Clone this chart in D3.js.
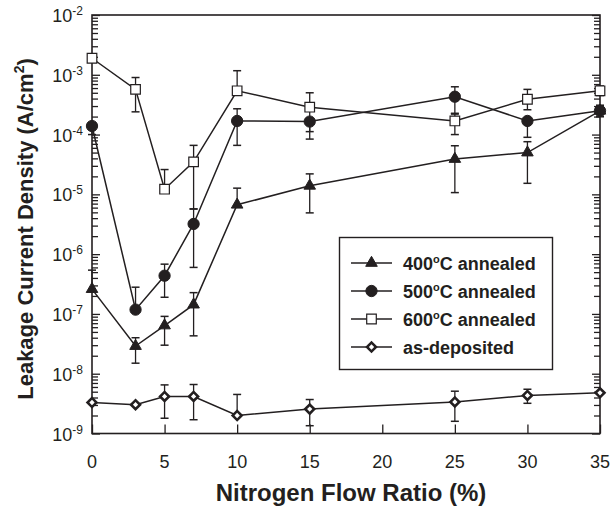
<!DOCTYPE html>
<html>
<head>
<meta charset="utf-8">
<script src="https://cdn.jsdelivr.net/npm/d3@7"></script>
<style>
  body { margin: 0; background: #fff; }
  svg { display: block; }
  text { font-family: "Liberation Sans", Arial, Helvetica, sans-serif; fill: #231f20; }
</style>
</head>
<body>
<svg id="chart" width="611" height="510"></svg>
<script>
// Nitrogen flow ratio (%) at which each film was measured
const flowRatio = [0, 3, 5, 7, 10, 15, 25, 30, 35];

// Leakage current density (A/cm^2), mean values
const annealed400 = [2.6e-7, 2.9e-8, 6.4e-8, 1.43e-7, 6.7e-6, 1.39e-5, 3.9e-5, 5.0e-5, 2.5e-4];
const annealed500 = [1.39e-4, 1.18e-7, 4.36e-7, 3.2e-6, 1.69e-4, 1.65e-4, 4.3e-4, 1.69e-4, 2.5e-4];
const annealed600 = [1.89e-3, 5.7e-4, 1.22e-5, 3.5e-5, 5.4e-4, 2.87e-4, 1.69e-4, 3.9e-4, 5.4e-4];
const asDeposited = [3.3e-9, 3.03e-9, 4.16e-9, 4.16e-9, 2.0e-9, 2.56e-9, 3.37e-9, 4.33e-9, 4.8e-9];

// Error bar limits (null = no bar drawn on that side)
const annealed400Hi = [5.4e-7, 4.0e-8, 9.1e-8, 2.27e-7, 1.27e-5, 2.2e-5, 6.5e-5, 7.6e-5, 3.0e-4];
const annealed400Lo = [null, 1.5e-8, 3.0e-8, 4.3e-8, null, 4.9e-6, 1.07e-5, 1.53e-5, 2.0e-4];
const annealed500Hi = [null, 2.8e-7, 6.8e-7, 5.7e-6, 2.7e-4, null, 6.3e-4, null, 3.1e-4];
const annealed500Lo = [1.0e-4, null, 1.9e-7, 6.0e-7, 6.6e-5, 8.4e-5, 2.27e-4, 9.0e-5, 2.0e-4];
const annealed600Hi = [null, 9.0e-4, 2.6e-5, 6.6e-5, 1.17e-3, 5.0e-4, 2.2e-4, 5.7e-4, 6.5e-4];
const annealed600Lo = [null, 2.4e-4, null, 5.7e-6, null, 1.12e-4, 1.0e-4, 2.6e-4, 4.5e-4];
const asDepositedHi = [null, null, 6.5e-9, 6.6e-9, 4.5e-9, 3.7e-9, 5.1e-9, 5.5e-9, null];
const asDepositedLo = [null, null, 1.8e-9, 1.7e-9, null, 1.35e-9, 1.6e-9, 3.2e-9, null];

// Axis ticks
const xTicks = [0, 5, 10, 15, 20, 25, 30, 35];
const yDecades = [-9, -8, -7, -6, -5, -4, -3, -2];

// Legend entries
const legendTemps = ["400", "500", "600"];
const legendLast = "as-deposited";

const ink = "#231f20";
const svg = d3.select("#chart");

const plotLeft = 92, plotRight = 600, plotTop = 15, plotBottom = 433.5;
const x = d3.scaleLinear().domain([0, 35]).range([plotLeft, plotRight]);
const y = d3.scaleLog().domain([1e-9, 1e-2]).range([plotBottom, plotTop]);

// Minor tick values: 2..9 within each decade
const minorTicks = [];
yDecades.slice(0, -1).forEach(e => {
  for (let m = 2; m <= 9; m++) minorTicks.push(m * Math.pow(10, e));
});
const majorTicks = yDecades.map(e => Math.pow(10, e));

function styleAxis(g) {
  g.select(".domain").remove();
  g.selectAll(".tick line").attr("stroke", ink).attr("stroke-width", 1.3);
  g.selectAll(".tick text").remove();
}

// Left and right log axes, ticks pointing inward
svg.append("g").attr("transform", `translate(${plotLeft},0)`)
  .call(d3.axisLeft(y).tickValues(majorTicks).tickSize(-8)).call(styleAxis);
svg.append("g").attr("transform", `translate(${plotLeft},0)`)
  .call(d3.axisLeft(y).tickValues(minorTicks).tickSize(-6)).call(styleAxis);
svg.append("g").attr("transform", `translate(${plotRight},0)`)
  .call(d3.axisRight(y).tickValues(majorTicks).tickSize(-8)).call(styleAxis);
svg.append("g").attr("transform", `translate(${plotRight},0)`)
  .call(d3.axisRight(y).tickValues(minorTicks).tickSize(-6)).call(styleAxis);

// Bottom axis
svg.append("g").attr("transform", `translate(0,${plotBottom})`)
  .call(d3.axisBottom(x).tickValues(xTicks).tickSize(-9)).call(styleAxis);

// Frame
svg.append("rect")
  .attr("x", plotLeft).attr("y", plotTop)
  .attr("width", plotRight - plotLeft).attr("height", plotBottom - plotTop)
  .attr("fill", "none").attr("stroke", ink).attr("stroke-width", 1.6);

// Y tick labels: 10^n
const yLab = svg.append("g");
yDecades.forEach(e => {
  const t = yLab.append("text")
    .attr("x", 83).attr("y", y(Math.pow(10, e)) + 7)
    .attr("text-anchor", "end").style("font-size", "18px");
  t.append("tspan").text("10");
  t.append("tspan").attr("dy", -7).style("font-size", "12px").text(String(e));
});

// X tick labels
svg.append("g").selectAll("text").data(xTicks).join("text")
  .attr("x", d => x(d)).attr("y", 468)
  .attr("text-anchor", "middle").style("font-size", "18px")
  .text(d => d);

// Axis titles
svg.append("text")
  .attr("x", 351).attr("y", 501)
  .attr("text-anchor", "middle")
  .style("font-size", "24px").style("font-weight", "bold")
  .text("Nitrogen Flow Ratio (%)");

const yt = svg.append("text")
  .attr("transform", "translate(33,229) rotate(-90)")
  .attr("text-anchor", "middle")
  .style("font-size", "22px").style("font-weight", "bold");
yt.append("tspan").text("Leakage Current Density (A/cm");
yt.append("tspan").attr("dy", -9).style("font-size", "14px").text("2");
yt.append("tspan").attr("dy", 9).text(")");

// Marker styles
const markers = {
  tri: { type: d3.symbolTriangle, size: 58, fill: ink, stroke: ink, sw: 1, rot: 0 },
  circ: { type: d3.symbolCircle, size: 100, fill: ink, stroke: ink, sw: 1, rot: 0 },
  sq: { type: d3.symbolSquare, size: 92, fill: "#fff", stroke: ink, sw: 1.2, rot: 0 },
  dia: { type: d3.symbolSquare, size: 40, fill: "#fff", stroke: ink, sw: 2.6, rot: 45 }
};

const series = [
  { vals: annealed400, hi: annealed400Hi, lo: annealed400Lo, m: markers.tri },
  { vals: annealed500, hi: annealed500Hi, lo: annealed500Lo, m: markers.circ },
  { vals: annealed600, hi: annealed600Hi, lo: annealed600Lo, m: markers.sq },
  { vals: asDeposited, hi: asDepositedHi, lo: asDepositedLo, m: markers.dia }
];

const line = d3.line().x(d => x(d[0])).y(d => y(d[1]));

const lineLayer = svg.append("g");
const errLayer = svg.append("g");
const markLayer = svg.append("g");

function drawMarker(g, m, cx, cy) {
  g.append("path")
    .attr("d", d3.symbol().type(m.type).size(m.size)())
    .attr("transform", `translate(${cx},${cy}) rotate(${m.rot})`)
    .attr("fill", m.fill).attr("stroke", m.stroke).attr("stroke-width", m.sw);
}

series.forEach(s => {
  const pts = flowRatio.map((f, i) => [f, s.vals[i]]);
  lineLayer.append("path").attr("d", line(pts))
    .attr("fill", "none").attr("stroke", ink).attr("stroke-width", 1.5);

  flowRatio.forEach((f, i) => {
    const cx = x(f), cy = y(s.vals[i]);
    [s.hi[i], s.lo[i]].forEach(lim => {
      if (lim == null) return;
      const ey = y(lim);
      errLayer.append("line").attr("x1", cx).attr("x2", cx).attr("y1", cy).attr("y2", ey)
        .attr("stroke", ink).attr("stroke-width", 1.3);
      errLayer.append("line").attr("x1", cx - 4).attr("x2", cx + 4).attr("y1", ey).attr("y2", ey)
        .attr("stroke", ink).attr("stroke-width", 1.5);
    });
  });

  pts.forEach(p => drawMarker(markLayer, s.m, x(p[0]), y(p[1])));
});

// Legend
const lg = svg.append("g");
lg.append("rect")
  .attr("x", 339.5).attr("y", 237.5).attr("width", 213).attr("height", 132)
  .attr("fill", "#fff").attr("stroke", ink).attr("stroke-width", 1.4);

const legendRows = [
  { m: markers.tri, temp: legendTemps[0] },
  { m: markers.circ, temp: legendTemps[1] },
  { m: markers.sq, temp: legendTemps[2] },
  { m: markers.dia, label: legendLast }
];
legendRows.forEach((r, i) => {
  const cy = 263 + i * 28;
  lg.append("line").attr("x1", 351).attr("x2", 392).attr("y1", cy).attr("y2", cy)
    .attr("stroke", ink).attr("stroke-width", 1.5);
  drawMarker(lg, r.m, 371.5, cy);
  const t = lg.append("text").attr("x", 403).attr("y", cy + 6.5)
    .style("font-size", "18px").style("font-weight", "bold");
  if (r.temp) {
    t.append("tspan").text(r.temp);
    t.append("tspan").attr("dy", -7).style("font-size", "11px").text("o");
    t.append("tspan").attr("dy", 7).text("C annealed");
  } else {
    t.text(r.label);
  }
});
</script>
</body>
</html>
